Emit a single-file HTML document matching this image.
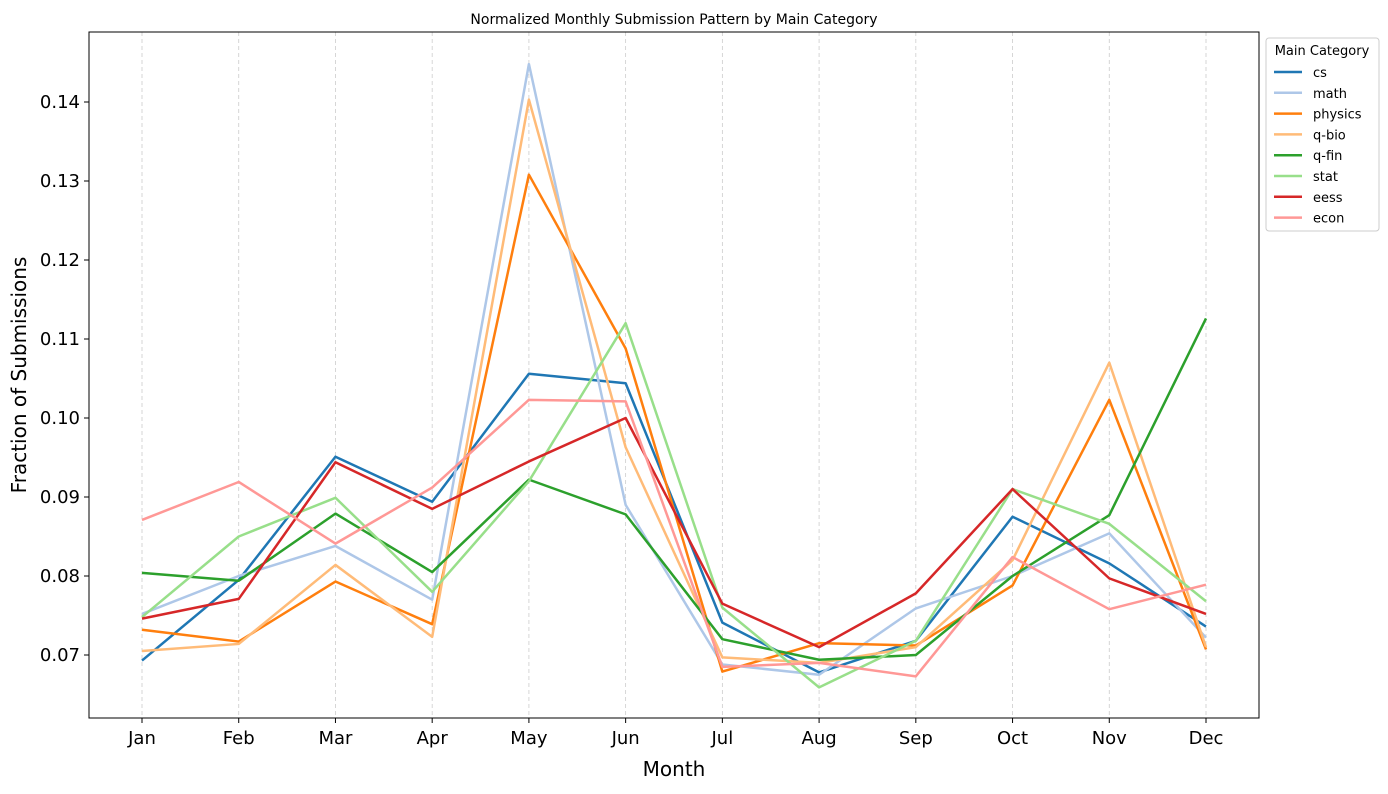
<!DOCTYPE html>
<html><head><meta charset="utf-8"><style>
body{margin:0;background:#fff;}
svg text{font-family:"DejaVu Sans","Liberation Sans",sans-serif;}
</style></head><body>
<svg id="chart" width="1388" height="789" viewBox="0 0 1388 789" xmlns="http://www.w3.org/2000/svg">
<rect width="1388" height="789" fill="#fff"/>
<text x="674" y="24" font-size="14" text-anchor="middle">Normalized Monthly Submission Pattern by Main Category</text>
<g id="grid"></g>
<g id="lines"></g>
<rect x="89" y="32" width="1170" height="686" fill="none" stroke="#000" stroke-width="1"/>
<g id="axes"></g>
<text x="674" y="776" font-size="20" text-anchor="middle">Month</text>
<text transform="translate(26,375) rotate(-90)" font-size="20" text-anchor="middle">Fraction of Submissions</text>
<g id="legend"></g>
</svg>
<script>
const months=["Jan","Feb","Mar","Apr","May","Jun","Jul","Aug","Sep","Oct","Nov","Dec"];
const yTicks=[0.07,0.08,0.09,0.10,0.11,0.12,0.13,0.14];
const yTickLabels=["0.07","0.08","0.09","0.10","0.11","0.12","0.13","0.14"];
const seriesNames=["cs","math","physics","q-bio","q-fin","stat","eess","econ"];
const seriesColors=["#1f77b4","#aec7e8","#ff7f0e","#ffbb78","#2ca02c","#98df8a","#d62728","#ff9896"];
const cs=[0.0693,0.0795,0.0951,0.0894,0.1056,0.1044,0.0741,0.0678,0.0718,0.0875,0.0816,0.0736];
const math=[0.0752,0.0800,0.0838,0.0770,0.1448,0.0890,0.0688,0.0675,0.0759,0.0800,0.0854,0.0722];
const physics=[0.0732,0.0717,0.0793,0.0739,0.1308,0.1088,0.0679,0.0715,0.0712,0.0788,0.1023,0.0707];
const qbio=[0.0705,0.0714,0.0814,0.0723,0.1403,0.0963,0.0697,0.0690,0.0710,0.0820,0.1070,0.0710];
const qfin=[0.0804,0.0794,0.0879,0.0805,0.0922,0.0878,0.0720,0.0694,0.0700,0.0800,0.0877,0.1126];
const stat=[0.0748,0.0850,0.0899,0.0780,0.0920,0.1120,0.0760,0.0659,0.0718,0.0910,0.0866,0.0768];
const eess=[0.0746,0.0771,0.0944,0.0885,0.0945,0.1000,0.0765,0.0710,0.0778,0.0910,0.0797,0.0752];
const econ=[0.0871,0.0919,0.0841,0.0912,0.1023,0.1021,0.0685,0.0690,0.0673,0.0824,0.0758,0.0789];
const seriesData=[cs,math,physics,qbio,qfin,stat,eess,econ];

const NS="http://www.w3.org/2000/svg";
const x=i=>142+i*(1206-142)/(months.length-1);
const y=v=>655-(v-0.07)*7900;
function mk(tag,attrs,parent){const e=document.createElementNS(NS,tag);for(const k in attrs)e.setAttribute(k,attrs[k]);parent.appendChild(e);return e;}
const grid=document.getElementById('grid'),axes=document.getElementById('axes'),lines=document.getElementById('lines'),legend=document.getElementById('legend');
months.forEach((m,i)=>{
  const g=mk('line',{x1:x(i),x2:x(i),y1:32,y2:718,stroke:'#ccc','stroke-dasharray':'4,3','stroke-width':0.8},grid);
  
  
  const t=mk('line',{x1:x(i),x2:x(i),y1:718,y2:723,stroke:'#000'},axes);
  
  
  const l=mk('text',{x:x(i),y:744,'font-size':18,'text-anchor':'middle'},axes);l.textContent=m;
  
  
});
yTicks.forEach((v,i)=>{
  const t=mk('line',{x1:84,x2:89,y1:y(v),y2:y(v),stroke:'#000'},axes);
  
  
  const l=mk('text',{x:80,y:y(v)+6,'font-size':18,'text-anchor':'end'},axes);l.textContent=yTickLabels[i];
  
  
});
seriesData.forEach((d,s)=>{
  const p=mk('polyline',{points:d.map((v,i)=>x(i)+','+y(v)).join(' '),fill:'none',stroke:seriesColors[s],'stroke-width':2.5,'stroke-linejoin':'round'},lines);
  
  
});
const box=mk('rect',{x:1266,y:38,width:113,height:193,rx:3,fill:'#fff',stroke:'#ccc'},legend);


const lt=mk('text',{x:1322,y:55,'font-size':13,'text-anchor':'middle'},legend);lt.textContent='Main Category';


seriesNames.forEach((n,s)=>{
  const yy=72+s*20.8;
  const ln=mk('line',{x1:1274,x2:1302,y1:yy,y2:yy,stroke:seriesColors[s],'stroke-width':2.5},legend);
  
  
  const t=mk('text',{x:1313,y:yy+5,'font-size':13},legend);t.textContent=n;
  
  
});
</script>
</body></html>
